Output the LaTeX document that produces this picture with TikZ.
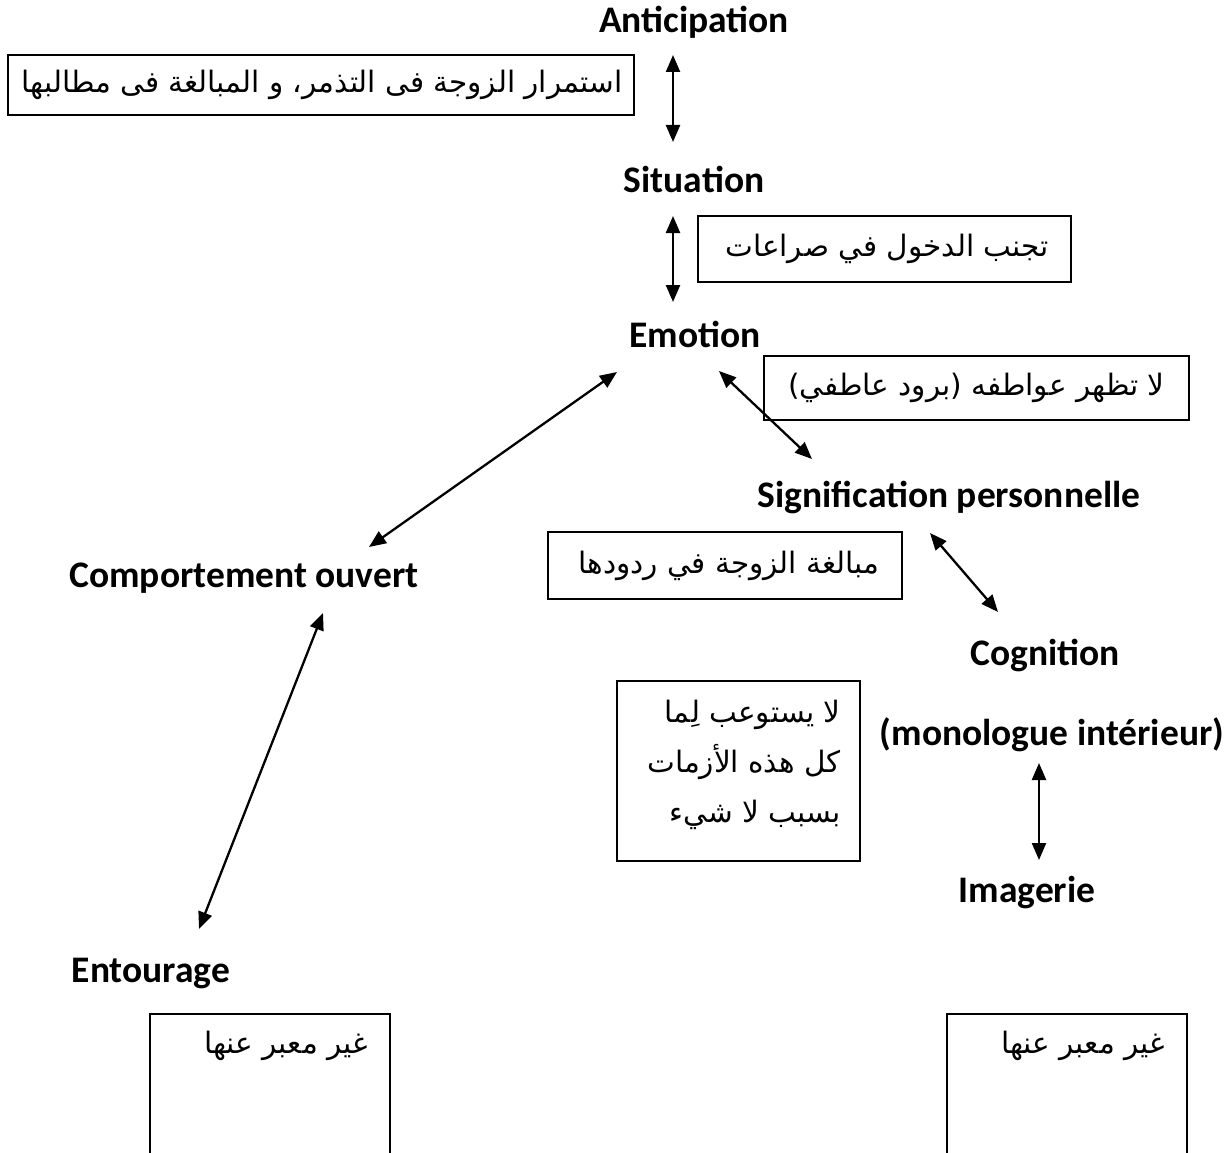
\documentclass[tikz,border=0pt]{standalone}
\usepackage{fontspec}
\setmainfont{Carlito}
\newfontfamily\arabicfont[Script=Arabic]{DejaVu Sans}
\TeXXeTstate=1
\usetikzlibrary{arrows.meta}
\tikzset{
  lab/.style={font=\fontsize{37.5}{44}\selectfont\bfseries, inner sep=0pt, anchor=base},
  abox/.style={draw, line width=1.7pt, rectangle, inner sep=0pt},
  atext/.style={font=\arabicfont\fontsize{29.5}{36}\selectfont, inner sep=0pt},
  link/.style={line width=2.3pt, {Triangle[length=17pt,width=14pt]}-{Triangle[length=17pt,width=14pt]}}
}
\begin{document}
\begin{tikzpicture}[x=1pt,y=-1pt]
\useasboundingbox (0,0) rectangle (1229,1153);
% labels
\node[lab] (ant) at (694,33) {Anticipation};
\node[lab] (sit) at (694,192) {Situation};
\node[lab] (emo) at (695,347) {Emotion};
\node[lab] (sig) at (949,507) {Signification personnelle};
\node[lab] (comp) at (244,587) {Comportement ouvert};
\node[lab] (cog) at (1045,665) {Cognition};
\node[lab] (mono) at (1052,745) {(monologue intérieur)};
\node[lab] (img) at (1027,902) {Imagerie};
\node[lab] (ent) at (151,982) {Entourage};
% boxes
\node[abox, minimum width=626pt, minimum height=60pt] (b1) at (321,85) {};
\node[atext] (t1) at (322,85) {\beginR استمرار الزوجة فى التذمر، و المبالغة فى مطالبها\endR};
\node[abox, minimum width=373pt, minimum height=66pt] (b2) at (884.5,249) {};
\node[atext] (t2) at (887,249) {\beginR تجنب الدخول في صراعات\endR};
\node[abox, minimum width=425pt, minimum height=64pt] (b3) at (976.5,388) {};
\node[atext] (t3) at (b3.center) {\beginR لا تظهر عواطفه (برود عاطفي)\endR};
\node[abox, minimum width=354pt, minimum height=67pt] (b4) at (725,565.5) {};
\node[atext] (t4) at (729,565.5) {\beginR مبالغة الزوجة في ردودها\endR};
\node[abox, minimum width=243pt, minimum height=180pt] (b5) at (738.5,771) {};
\node[atext, anchor=base east] (t5a) at (841,722) {\beginR لا يستوعب لِما\endR};
\node[atext, anchor=base east] (t5b) at (841,772) {\beginR كل هذه الأزمات\endR};
\node[atext, anchor=base east] (t5c) at (841,822) {\beginR بسبب لا شيء\endR};
\node[abox, minimum width=240pt, minimum height=200pt, anchor=north west] (b6) at (149,1013) {};
\node[atext, anchor=base east] (t6) at (368,1053) {\beginR غير معبر عنها\endR};
\node[abox, minimum width=240pt, minimum height=200pt, anchor=north west] (b7) at (946,1013) {};
\node[atext, anchor=base east] (t7) at (1165,1053) {\beginR غير معبر عنها\endR};
% arrow ends
\coordinate (a1s) at (673,55);   \coordinate (a1e) at (673,142);
\coordinate (a2s) at (673,216);  \coordinate (a2e) at (673,302);
\coordinate (a3s) at (719,371);  \coordinate (a3e) at (812,459);
\coordinate (a4s) at (930,533);  \coordinate (a4e) at (998,612);
\coordinate (a5s) at (617,372);  \coordinate (a5e) at (369,547);
\coordinate (a6s) at (1039,763); \coordinate (a6e) at (1039,860);
\coordinate (a7s) at (323,613);  \coordinate (a7e) at (199,929);
\draw[link] (a1s) -- (a1e);
\draw[link] (a2s) -- (a2e);
\draw[link] (a3s) -- (a3e);
\draw[link] (a4s) -- (a4e);
\draw[link] (a5s) -- (a5e);
\draw[link] (a6s) -- (a6e);
\draw[link] (a7s) -- (a7e);
\end{tikzpicture}
\end{document}
